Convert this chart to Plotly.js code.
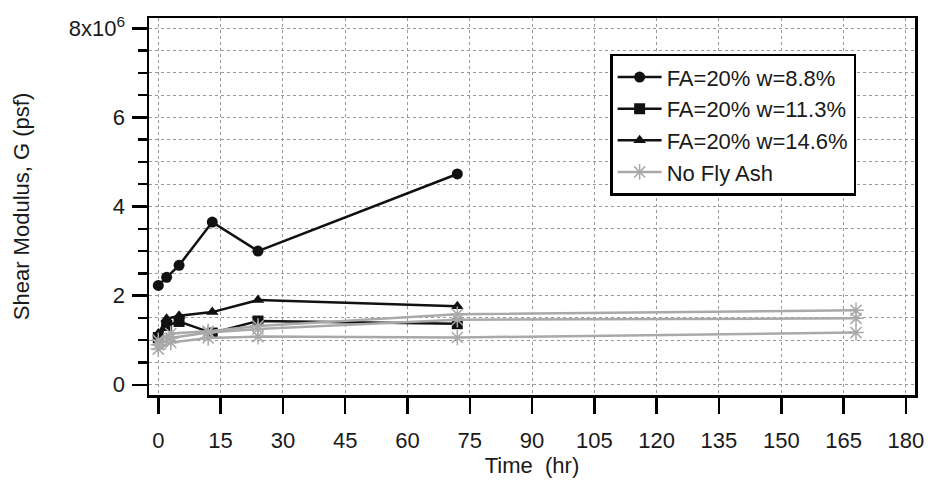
<!DOCTYPE html>
<html>
<head>
<meta charset="utf-8">
<script src="https://cdn.plot.ly/plotly-3.0.1.min.js"></script>
<style>html,body{margin:0;padding:0;background:#fff;}#chart{width:930px;height:483px;}</style>
</head>
<body>
<div id="chart"></div>
<script>
// Time (hr)
const tBlack = [0, 2, 5, 13, 24, 72];
const tGray = [0, 3, 12, 24, 72, 168];
// Shear modulus G (psf)
const fa88 = [2.23e6, 2.41e6, 2.68e6, 3.65e6, 3.0e6, 4.73e6];
const fa113 = [1.06e6, 1.33e6, 1.42e6, 1.16e6, 1.43e6, 1.37e6];
const fa146 = [1.15e6, 1.48e6, 1.55e6, 1.63e6, 1.9e6, 1.76e6];
const noFaA = [1.0e6, 1.15e6, 1.2e6, 1.32e6, 1.58e6, 1.67e6];
const noFaB = [0.9e6, 1.05e6, 1.17e6, 1.25e6, 1.46e6, 1.49e6];
const noFaC = [0.8e6, 0.95e6, 1.05e6, 1.08e6, 1.06e6, 1.17e6];

const names = ['FA=20% w=8.8%', 'FA=20% w=11.3%', 'FA=20% w=14.6%', 'No Fly Ash'];
const xTicks = [0, 15, 30, 45, 60, 75, 90, 105, 120, 135, 150, 165, 180];
const yTickVals = [0, 2e6, 4e6, 6e6, 8e6];
const yTickText = ['0', '2', '4', '6', '8x10<sup>6</sup>'];

const black = '#111';
const gray = '#a9a9a9';

function blackTrace(y, name, sym) {
  return {x: tBlack, y: y, name: name, type: 'scatter', mode: 'lines+markers',
    line: {color: black, width: 2.5},
    marker: {symbol: sym, size: 11, color: black}};
}
function grayTrace(y, show) {
  return {x: tGray, y: y, name: names[3], type: 'scatter', mode: 'lines+markers', showlegend: show,
    line: {color: gray, width: 2.5},
    marker: {symbol: 'asterisk-open', size: 13, color: gray, line: {color: gray, width: 1.5}}};
}

const data = [
  blackTrace(fa88, names[0], 'circle'),
  blackTrace(fa113, names[1], 'square'),
  blackTrace(fa146, names[2], 'triangle-up'),
  grayTrace(noFaA, true),
  grayTrace(noFaB, false),
  grayTrace(noFaC, false)
];

const font = {family: '"Liberation Sans", Arial, sans-serif', color: '#1a1a1a'};

const layout = {
  width: 930, height: 483,
  margin: {l: 149, r: 15, t: 18, b: 88},
  paper_bgcolor: '#fff', plot_bgcolor: '#fff',
  font: Object.assign({size: 22}, font),
  showlegend: true,
  legend: {x: 0.602, y: 0.905, xanchor: 'left', yanchor: 'top',
    bgcolor: '#fff', bordercolor: '#000', borderwidth: 2.5,
    font: Object.assign({size: 22}, font), tracegroupgap: 0, itemwidth: 44},
  xaxis: {
    range: [-2.24, 182.2], tickmode: 'array', tickvals: xTicks,
    ticks: 'outside', ticklen: 16, tickwidth: 2.5, tickcolor: '#000', ticklabelstandoff: 8,
    showline: true, mirror: true, linewidth: 2.5, linecolor: '#000',
    showgrid: true, gridcolor: '#999', gridwidth: 1, griddash: 'dot',
    zeroline: false, tickfont: Object.assign({size: 22}, font),
    title: {text: 'Time\u00a0 (hr)', font: Object.assign({size: 22}, font), standoff: 6}
  },
  yaxis: {
    range: [-0.23e6, 8.23e6], tickmode: 'array', tickvals: yTickVals, ticktext: yTickText,
    ticks: 'outside', ticklen: 15, tickwidth: 2.5, tickcolor: '#000', ticklabelstandoff: 2,
    showline: true, mirror: true, linewidth: 2.5, linecolor: '#000',
    showgrid: true, gridcolor: '#999', gridwidth: 1, griddash: 'dot',
    zeroline: false, tickfont: Object.assign({size: 22}, font),
    minor: {tickmode: 'linear', tick0: 0, dtick: 5e5, ticks: 'outside', ticklen: 9, tickwidth: 2.5, tickcolor: '#000',
      showgrid: true, gridcolor: '#999', gridwidth: 1, griddash: 'dot'},
    title: {text: 'Shear Modulus, G (psf)', font: Object.assign({size: 22}, font), standoff: 33}
  }
};

Plotly.newPlot('chart', data, layout, {staticPlot: true, displayModeBar: false});
</script>
</body>
</html>
